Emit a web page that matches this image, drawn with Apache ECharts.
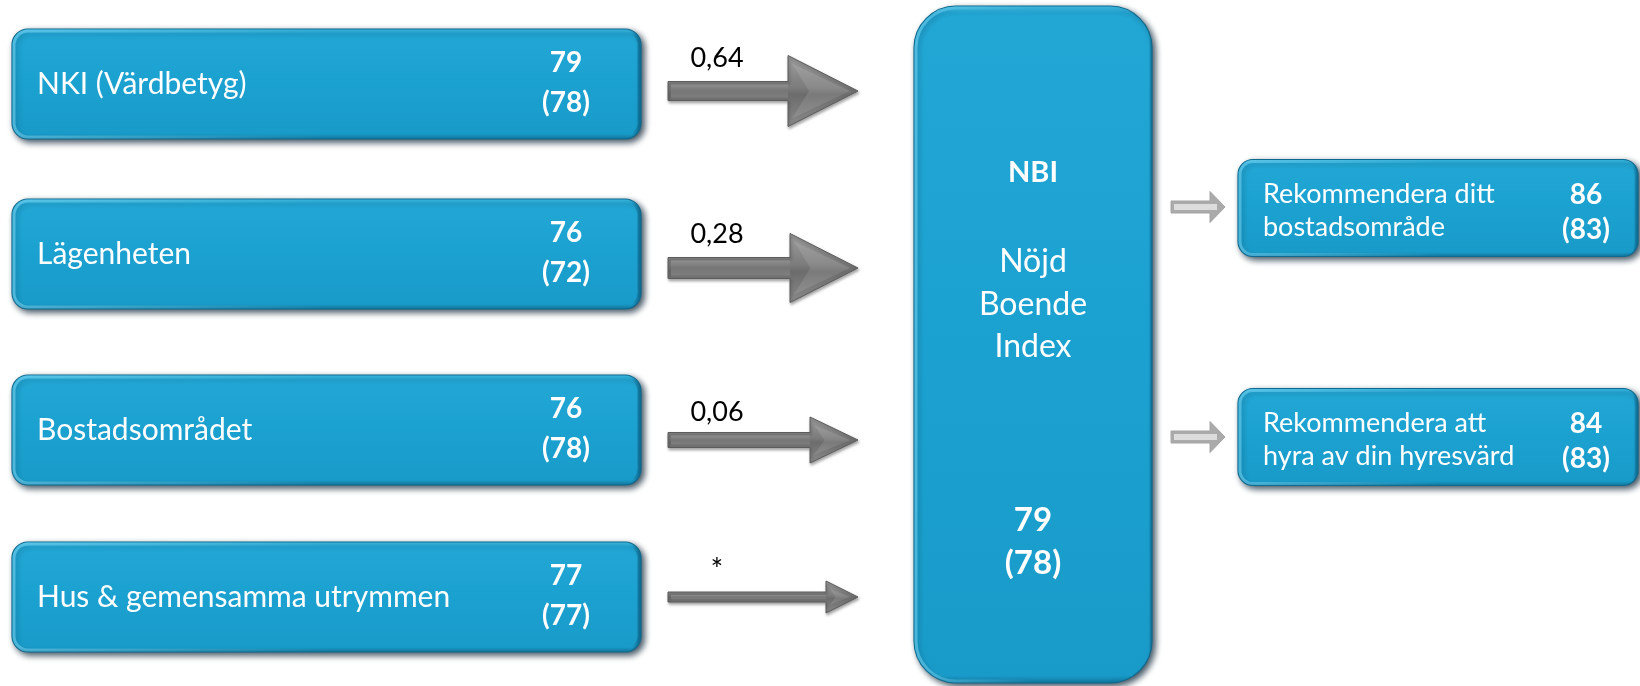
<!DOCTYPE html>
<html>
<head>
<meta charset="utf-8">
<title>Nöjd Boende Index</title>
<script src="https://cdn.jsdelivr.net/npm/echarts@6/dist/echarts.min.js"></script>
<style>
  html, body { margin: 0; padding: 0; background: #ffffff; }
  #chart { width: 1640px; height: 686px; }
</style>
</head>
<body>
<div id="chart"></div>
<script>
// ---- data ----
const drivers = ['NKI (Värdbetyg)', 'Lägenheten', 'Bostadsområdet', 'Hus & gemensamma utrymmen'];
const driverScore = [79, 76, 76, 77];
const driverPrevScore = [78, 72, 78, 77];
const driverWeight = [0.64, 0.28, 0.06, null]; // null: no significant effect, shown as *

const indexTitle = 'NBI';
const indexName = ['Nöjd', 'Boende', 'Index'];
const indexScore = [79];
const indexPrevScore = [78];

const outcomes = [['Rekommendera ditt', 'bostadsområde'], ['Rekommendera att', 'hyra av din hyresvärd']];
const outcomeScore = [86, 84];
const outcomePrevScore = [83, 83];

// ---- layout (pixel units on hidden value axes) ----
const W = 1640, H = 686;
const layout = {
  driverBox: { x0: 12, x1: 641, h: 110, r: 16 },
  driverRowY: [84, 254, 430, 597],
  labelX: 37, scoreX: 566, scoreDy: [-21, 19],
  arrowX0: 668, arrowX1: 858,
  arrowY: [91, 268, 440, 597],
  arrowShaft: [19, 21, 15, 10],
  arrowHead: [71, 69, 46, 32],
  arrowHeadLen: [70, 68, 48, 32],
  weightX: 717, weightY: [58, 234, 412, 570],
  center: { x0: 914, x1: 1152, y0: 6, y1: 683, r: 42, cx: 1033 },
  centerTitleY: 173, centerNameY: [262, 305, 347], centerScoreY: [520, 563],
  outArrow: { x0: 1171, x1: 1225, shaft: 12, head: 31, headLen: 15 },
  outArrowY: [207, 437],
  outBox: { x0: 1238, x1: 1638, h: 97, r: 15 },
  outRowY: [208, 437],
  outLabelX: 1263, outLabelDy: [-14, 19], outScoreX: 1586, outScoreDy: [-13, 22]
};

const FONT = 'Lato, "Open Sans", sans-serif';
const BLUE = '#1ba1d0';

function fmtWeight(w) {
  return w == null ? '*' : w.toFixed(2).replace('.', ',');
}

// rounded, bevelled blue panel
function panel(api, x0, y0, x1, y1, r) {
  const p0 = api.coord([x0, y0]);
  const p1 = api.coord([x1, y1]);
  const w = p1[0] - p0[0], h = p1[1] - p0[1];
  return [
    {
      type: 'rect',
      shape: { x: p0[0], y: p0[1], width: w, height: h, r: r },
      style: {
        fill: new echarts.graphic.LinearGradient(0, 0, 0, 1, [
          { offset: 0, color: '#45c6ef' },
          { offset: Math.min(0.05, 8 / h), color: '#22a7d5' },
          { offset: 0.5, color: BLUE },
          { offset: 1 - Math.min(0.05, 8 / h), color: '#199bc9' },
          { offset: 1, color: '#10769c' }
        ]),
        stroke: '#0e6a8e',
        lineWidth: 1.2,
        shadowBlur: 6,
        shadowOffsetX: 3,
        shadowOffsetY: 3,
        shadowColor: 'rgba(0,25,45,0.75)'
      }
    },
    {
      type: 'rect',
      shape: { x: p0[0] + 2, y: p0[1] + 2, width: w - 4, height: h - 4, r: Math.max(r - 2, 0) },
      style: {
        fill: 'none',
        stroke: new echarts.graphic.LinearGradient(0, 0, 1, 0, [
          { offset: 0, color: 'rgba(120,215,245,0.55)' },
          { offset: 0.5, color: 'rgba(120,215,245,0.0)' },
          { offset: 0.985, color: 'rgba(0,60,90,0.0)' },
          { offset: 1, color: 'rgba(0,50,80,0.55)' }
        ]),
        lineWidth: 3
      }
    }
  ];
}

function text(api, x, y, str, font, align, fill) {
  const p = api.coord([x, y]);
  return {
    type: 'text',
    style: {
      text: str, x: p[0], y: p[1], font: font,
      align: align || 'center', verticalAlign: 'middle',
      fill: fill || '#ffffff'
    }
  };
}

// bevelled block arrow pointing right
function blockArrow(api, x0, x1, yc, shaft, head, headLen, light) {
  const a = api.coord([x0, yc]);
  const b = api.coord([x1, yc]);
  const y = a[1];
  const hx = b[0] - headLen;
  const pts = [
    [a[0], y - shaft / 2], [hx, y - shaft / 2], [hx, y - head / 2], [b[0], y],
    [hx, y + head / 2], [hx, y + shaft / 2], [a[0], y + shaft / 2]
  ];
  if (light) {
    return [
      { type: 'polygon', shape: { points: pts }, style: { fill: '#aaaaaa', stroke: '#a4a4a4', lineWidth: 1 } },
      {
        type: 'rect',
        shape: { x: a[0] + 3, y: y - shaft / 2 + 3, width: hx - a[0] + 4, height: shaft - 6 },
        style: { fill: '#dcdcdc' }
      }
    ];
  }
  return [
    {
      type: 'polygon',
      shape: { points: pts },
      style: {
        fill: new echarts.graphic.LinearGradient(0, 0, 0, 1, [
          { offset: 0, color: '#9e9e9e' },
          { offset: 0.45, color: '#7c7c7c' },
          { offset: 0.55, color: '#6c6c6c' },
          { offset: 1, color: '#8a8a8a' }
        ]),
        stroke: '#5c5c5c',
        lineWidth: 1,
        shadowBlur: 3,
        shadowOffsetX: 1,
        shadowOffsetY: 2,
        shadowColor: 'rgba(0,0,0,0.35)'
      }
    },
    {
      type: 'polygon',
      shape: { points: [[a[0] + 3, y - shaft / 2 + 3], [hx, y - shaft / 2 + 3], [hx, y + shaft / 2 - 3], [a[0] + 3, y + shaft / 2 - 3]] },
      style: {
        fill: new echarts.graphic.LinearGradient(0, 0, 0, 1, [
          { offset: 0, color: '#8e8e8e' },
          { offset: 0.5, color: '#767676' },
          { offset: 1, color: '#7e7e7e' }
        ])
      }
    },
    {
      type: 'polygon',
      shape: { points: [[hx + 4, y - head / 2 + 8], [b[0] - 8, y], [hx + 4, y + head / 2 - 8], [hx + headLen * 0.3, y]] },
      style: { fill: 'rgba(255,255,255,0.10)' }
    }
  ];
}

const chart = echarts.init(document.getElementById('chart'), null, { renderer: 'canvas' });

chart.setOption({
  backgroundColor: '#ffffff',
  animation: false,
  grid: { left: 0, right: 0, top: 0, bottom: 0 },
  xAxis: { type: 'value', min: 0, max: W, show: false },
  yAxis: { type: 'value', min: 0, max: H, inverse: true, show: false },
  series: [
    {
      // driver panels with their scores
      type: 'custom',
      name: 'drivers',
      data: drivers.map((d, i) => [i, driverScore[i], driverPrevScore[i]]),
      renderItem: function (params, api) {
        const i = params.dataIndex;
        const B = layout.driverBox;
        const yc = layout.driverRowY[i];
        const children = panel(api, B.x0, yc - B.h / 2, B.x1, yc + B.h / 2, B.r);
        children.push(text(api, layout.labelX, yc, drivers[i], '30px ' + FONT, 'left'));
        children.push(text(api, layout.scoreX, yc + layout.scoreDy[0], String(api.value(1)), 'bold 28px ' + FONT));
        children.push(text(api, layout.scoreX, yc + layout.scoreDy[1], '(' + api.value(2) + ')', 'bold 28px ' + FONT));
        return { type: 'group', children: children };
      }
    },
    {
      // weight arrows into the index
      type: 'custom',
      name: 'weights',
      data: driverWeight.map((w, i) => [i, w == null ? 0 : w]),
      renderItem: function (params, api) {
        const i = params.dataIndex;
        const children = blockArrow(api, layout.arrowX0, layout.arrowX1, layout.arrowY[i],
          layout.arrowShaft[i], layout.arrowHead[i], layout.arrowHeadLen[i], false);
        children.push(text(api, layout.weightX, layout.weightY[i], fmtWeight(driverWeight[i]),
          (driverWeight[i] == null ? '30px ' : '27px ') + FONT, 'center', '#000000'));
        return { type: 'group', children: children };
      }
    },
    {
      // central index panel
      type: 'custom',
      name: 'index',
      data: [[0, indexScore[0], indexPrevScore[0]]],
      renderItem: function (params, api) {
        const C = layout.center;
        const children = panel(api, C.x0, C.y0, C.x1, C.y1, C.r);
        children.push(text(api, C.cx, layout.centerTitleY, indexTitle, 'bold 29px ' + FONT));
        indexName.forEach((s, k) => children.push(text(api, C.cx, layout.centerNameY[k], s, '32px ' + FONT)));
        children.push(text(api, C.cx, layout.centerScoreY[0], String(api.value(1)), 'bold 33px ' + FONT));
        children.push(text(api, C.cx, layout.centerScoreY[1], '(' + api.value(2) + ')', 'bold 33px ' + FONT));
        return { type: 'group', children: children };
      }
    },
    {
      // outcome panels with arrows from the index
      type: 'custom',
      name: 'outcomes',
      data: outcomes.map((o, i) => [i, outcomeScore[i], outcomePrevScore[i]]),
      renderItem: function (params, api) {
        const i = params.dataIndex;
        const A = layout.outArrow, B = layout.outBox;
        const yc = layout.outRowY[i];
        const children = blockArrow(api, A.x0, A.x1, layout.outArrowY[i], A.shaft, A.head, A.headLen, true);
        panel(api, B.x0, yc - B.h / 2, B.x1, yc + B.h / 2, B.r).forEach(c => children.push(c));
        outcomes[i].forEach((s, k) => children.push(text(api, layout.outLabelX, yc + layout.outLabelDy[k], s, '27px ' + FONT, 'left')));
        children.push(text(api, layout.outScoreX, yc + layout.outScoreDy[0], String(api.value(1)), 'bold 28px ' + FONT));
        children.push(text(api, layout.outScoreX, yc + layout.outScoreDy[1], '(' + api.value(2) + ')', 'bold 28px ' + FONT));
        return { type: 'group', children: children };
      }
    }
  ]
});
</script>
</body>
</html>
